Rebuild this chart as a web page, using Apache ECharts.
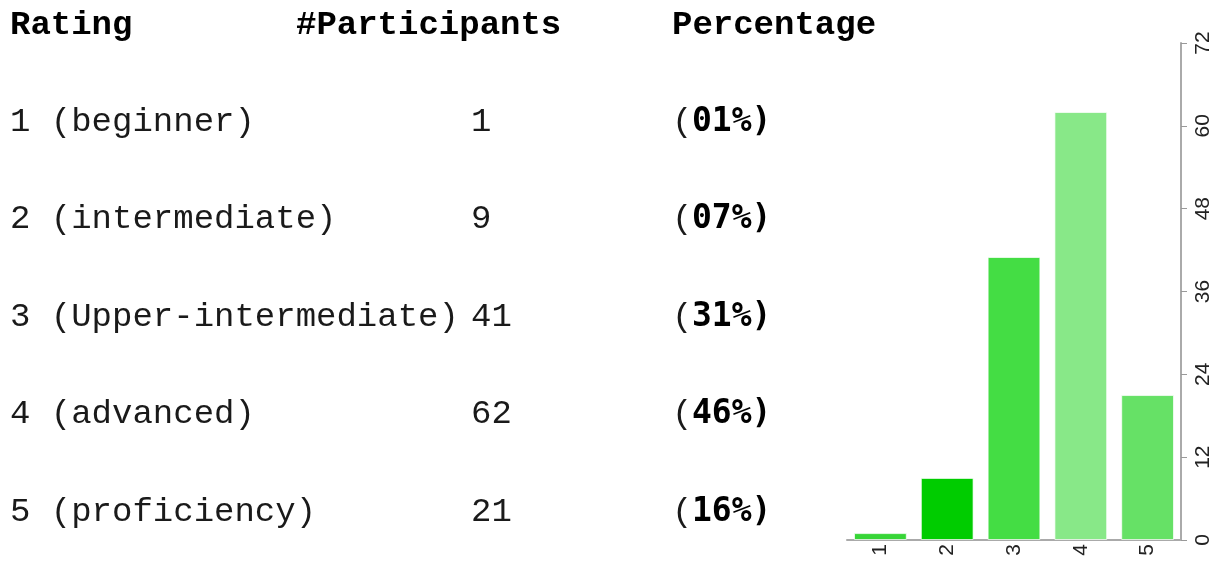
<!DOCTYPE html>
<html>
<head>
<meta charset="utf-8">
<script src="https://cdn.jsdelivr.net/npm/echarts@6/dist/echarts.min.js"></script>
<style>
  html, body { margin: 0; padding: 0; background: #fff; }
  #chart { width: 1230px; height: 561px; }
</style>
</head>
<body>
<div id="chart"></div>
<script>
// table + chart data
const headers = ['Rating', '#Participants', 'Percentage']
const ratings = ['1', '2', '3', '4', '5']
const levels = ['beginner', 'intermediate', 'Upper-intermediate', 'advanced', 'proficiency']
const participants = [1, 9, 41, 62, 21]
const percentages = ['01%', '07%', '31%', '46%', '16%']
const barColors = ['#36d536', '#00cc00', '#44dd44', '#88e888', '#66e166']

const mono = "'Liberation Mono', 'Courier New', monospace"
const rowY = [122, 219, 317, 414, 512]
const colX = [10, 296, 672]

const graphics = []
headers.forEach((h, i) => {
  graphics.push({
    type: 'text',
    x: colX[i],
    y: 25,
    style: {
      text: h,
      font: 'bold 34px ' + mono,
      fill: '#000',
      verticalAlign: 'middle'
    }
  })
})

ratings.forEach((r, i) => {
  graphics.push({
    type: 'text',
    x: 10,
    y: rowY[i],
    style: {
      text: r + ' (' + levels[i] + ')',
      font: '34px ' + mono,
      fill: '#1a1a1a',
      verticalAlign: 'middle'
    }
  })
  graphics.push({
    type: 'text',
    x: 471,
    y: rowY[i],
    style: {
      text: String(participants[i]),
      font: '34px ' + mono,
      fill: '#1a1a1a',
      verticalAlign: 'middle'
    }
  })
  graphics.push({
    type: 'text',
    x: 672,
    y: rowY[i],
    style: {
      text: '(',
      font: '34px ' + mono,
      fill: '#1a1a1a',
      verticalAlign: 'middle'
    }
  })
  graphics.push({
    type: 'text',
    x: 692,
    y: rowY[i],
    style: {
      text: percentages[i] + ')',
      font: "bold 33px 'DejaVu Sans Mono', monospace",
      fill: '#000',
      verticalAlign: 'middle'
    }
  })
})

const chart = echarts.init(document.getElementById('chart'))

chart.setOption({
  animation: false,
  backgroundColor: '#fff',
  graphic: graphics,
  grid: { left: 847, right: 49, top: 43, bottom: 21 },
  xAxis: {
    type: 'category',
    data: ratings,
    axisLine: { lineStyle: { color: '#aaa', width: 2 } },
    axisTick: { alignWithLabel: true, length: 5, lineStyle: { color: '#999' } },
    axisLabel: {
      rotate: 90,
      margin: 4,
      color: '#222',
      fontSize: 21,
      fontFamily: "'Liberation Sans', Arial, sans-serif"
    }
  },
  yAxis: {
    type: 'value',
    position: 'right',
    min: 0,
    max: 72,
    interval: 12,
    splitLine: { show: false },
    axisLine: { show: true, lineStyle: { color: '#aaa', width: 2 } },
    axisTick: { show: true, length: 6, lineStyle: { color: '#999' } },
    axisLabel: {
      rotate: 90,
      margin: 12,
      color: '#222',
      fontSize: 21,
      fontFamily: "'Liberation Sans', Arial, sans-serif"
    }
  },
  series: [{
    type: 'bar',
    barCategoryGap: '21%',
    data: participants.map((v, i) => ({
      value: v,
      itemStyle: { color: barColors[i] }
    })),
    itemStyle: { borderColor: 'rgba(255,255,255,0.7)', borderWidth: 1 }
  }]
})
</script>
</body>
</html>
